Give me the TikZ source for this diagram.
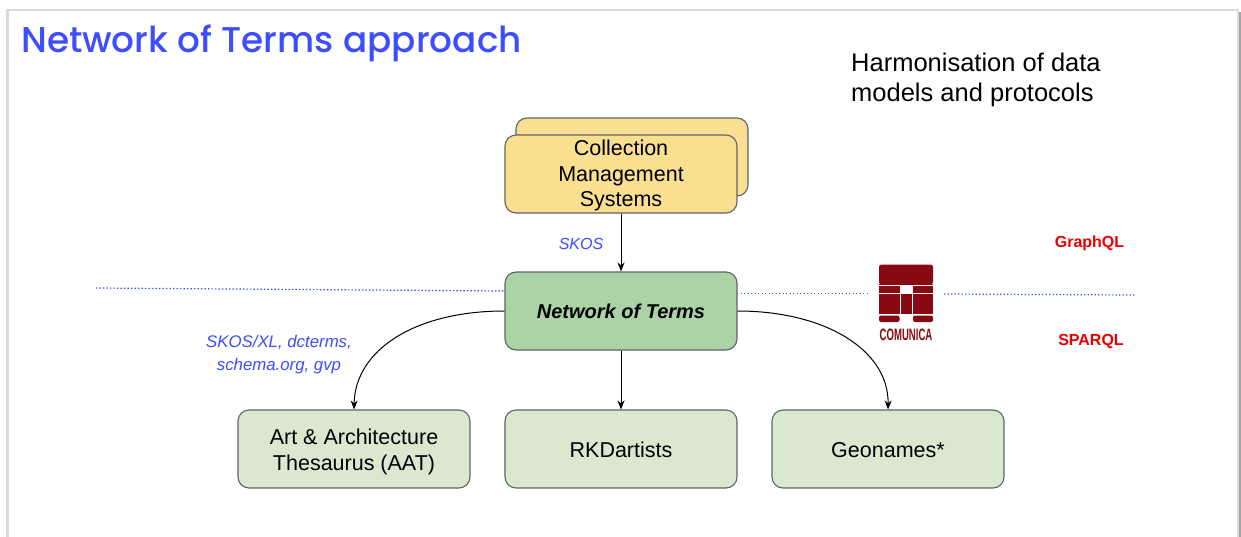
\documentclass[tikz,border=0pt]{standalone}
\usepackage{fontspec}
\setmainfont{Liberation Sans}
\newfontfamily\titlefont{Poppins Medium}
\usetikzlibrary{arrows.meta}
\definecolor{titleblue}{HTML}{3D4DFF}
\definecolor{labelblue}{HTML}{3D4DFF}
\definecolor{cmsfill}{HTML}{F9DF8F}
\definecolor{notfill}{HTML}{ABD3A6}
\definecolor{srcfill}{HTML}{D9E8CF}
\definecolor{boxline}{HTML}{5F6368}
\definecolor{logored}{HTML}{870A12}
\definecolor{framegray}{HTML}{DADADA}
\definecolor{protored}{HTML}{EA0000}
\newcommand{\lowered}[2]{\raisebox{-#1pt}[0pt][0pt]{\parbox[c]{230pt}{\centering #2}}}
\tikzset{
  x=1pt,y=-1pt,
  roundbox/.style={draw=boxline,line width=1.1pt,rounded corners=11pt,minimum width=232pt,minimum height=78pt,align=center,inner sep=0pt,font=\fontsize{21.5}{25.5}\selectfont},
  conn/.style={line width=1pt,-{Stealth[length=9pt,width=7pt]}},
  dots/.style={draw=labelblue,line width=1.2pt,dash pattern=on 1.4pt off 2.1pt},
  proto/.style={text=protored,font=\bfseries\fontsize{16}{19}\selectfont,inner sep=0pt},
  italiclabel/.style={text=labelblue,align=center,inner sep=0pt,font=\itshape\fontsize{16.8}{23}\selectfont},
  plain/.style={inner sep=0pt,align=left,font=\fontsize{25.5}{30}\selectfont}
}
\begin{document}
\begin{tikzpicture}
\useasboundingbox (0,0) rectangle (1241,536);
\fill[white] (0,0) rectangle (1241,536);
\draw[framegray,line width=2.4pt] (7.5,537) -- (7.5,10) -- (1238,10) -- (1238,537);
\draw[black!35,line width=2pt] (1240,12) -- (1240,537);
\node[anchor=base west,inner sep=0pt,text=titleblue,font=\titlefont\fontsize{35.8}{40}\selectfont] (title) at (21,52) {Network of Terms approach};
\node[plain,anchor=north west] (harm) at (851,50) {\strut\vphantom{g}Harmonisation of data\\models and protocols};

\node[roundbox,fill=cmsfill] (cmsback) at (632,157) {};
\node[roundbox,fill=cmsfill] (cms) at (621,174) {\lowered{7}{Collection\\Management\\Systems}};
\node[roundbox,fill=notfill,font=\bfseries\itshape\fontsize{20}{25}\selectfont] (not) at (621,311) {Network of Terms};
\node[roundbox,fill=srcfill] (aat) at (354,449) {\lowered{8}{Art \& Architecture\\Thesaurus (AAT)}};
\node[roundbox,fill=srcfill] (rkd) at (621,449) {\lowered{6}{RKDartists}};
\node[roundbox,fill=srcfill] (geo) at (888,449) {\lowered{6}{Geonames*}};

\draw[conn] (cms) -- (not);
\draw[conn] (not) -- (rkd);
\draw[conn] (not.west) .. controls (415,311) and (355,350) .. (aat.north);
\draw[conn] (not.east) .. controls (825,311) and (889,350) .. (geo.north);

\coordinate (dotL) at (96,288);
\coordinate (dotM) at (868,293.4);
\coordinate (dotR1) at (944,294);
\coordinate (dotR2) at (1135,295);
\draw[dots] (dotL) -- (505,291);
\draw[dots] (737,293.4) -- (dotM);
\draw[dots] (dotR1) -- (dotR2);

\node[italiclabel,font=\itshape\fontsize{16}{23}\selectfont] (skos) at (581,244) {SKOS};
\node[italiclabel] (skosxl) at (279,355) {SKOS/XL, dcterms,\\schema.org, gvp};
\node[proto] (gql) at (1089.5,243) {GraphQL};
\node[proto] (sparql) at (1091,341) {SPARQL};

% Comunica logo
\fill[logored,rounded corners=2.5pt] (879,284.5) -- (879,264.5) -- (933,264.5) -- (933,284.5) -- cycle;
\fill[logored] (879,284) rectangle (933,284.5);
\fill[logored] (879,286) rectangle (899.5,292.5);
\fill[logored] (913,286) rectangle (933,292.5);
\fill[logored] (879,294) rectangle (899.5,314);
\fill[logored] (913,294) rectangle (933,314);
\fill[logored] (901,294) rectangle (911.5,314);
\fill[logored,rounded corners=2pt] (879,315.5) -- (879,322) -- (899.5,322) -- (899.5,315.5) -- cycle;
\fill[logored,rounded corners=2pt] (913,315.5) -- (913,322) -- (933,322) -- (933,315.5) -- cycle;
\node[inner sep=0pt,text=logored] (comunica) at (906,335) {\scalebox{.58}[1]{\bfseries\fontsize{16.5}{18}\selectfont COMUNICA}};
\end{tikzpicture}
\end{document}
